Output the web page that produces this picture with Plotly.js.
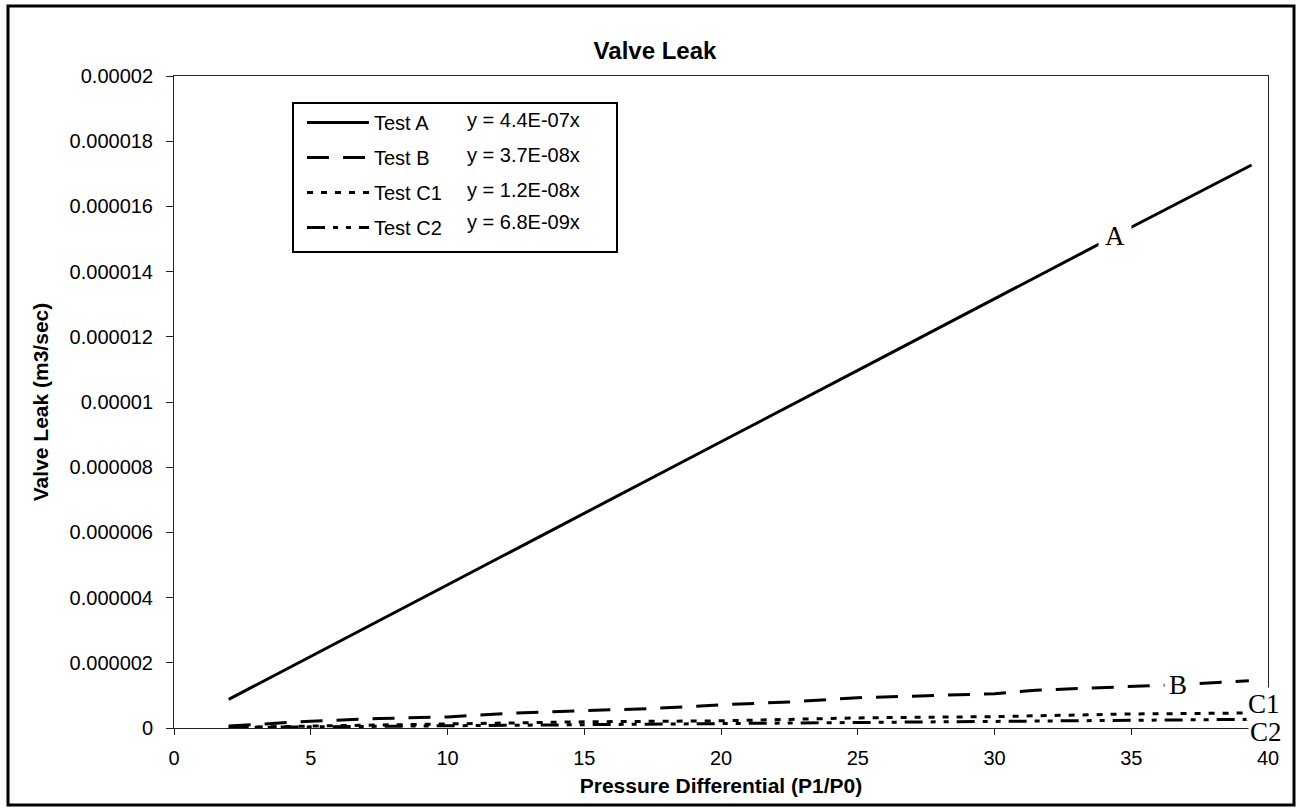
<!DOCTYPE html>
<html>
<head>
<meta charset="utf-8">
<script src="https://cdn.plot.ly/plotly-3.0.1.min.js"></script>
<style>
  html, body { margin: 0; padding: 0; background: #fff; }
  #chart { width: 1297px; height: 810px; }
</style>
</head>
<body>
<div id="chart"></div>
<script>
// ---- data ----
const seriesNames = ["Test A", "Test B", "Test C1", "Test C2"];
const equations = ["y = 4.4E-07x", "y = 3.7E-08x", "y = 1.2E-08x", "y = 6.8E-09x"];

const xA = [2, 5, 10, 15, 20, 25, 30, 35, 39.4];
const yA = [0.88e-6, 2.2e-6, 4.39e-6, 6.58e-6, 8.78e-6, 10.97e-6, 13.17e-6, 15.36e-6, 17.27e-6];

const xB = [2, 5, 7.5, 10, 12.5, 15, 17.5, 20, 22.5, 25, 27.5, 30, 31.5, 35, 37, 39.3];
const yB = [0.06e-6, 0.21e-6, 0.29e-6, 0.34e-6, 0.46e-6, 0.53e-6, 0.60e-6, 0.71e-6, 0.80e-6, 0.93e-6, 0.98e-6, 1.05e-6, 1.16e-6, 1.26e-6, 1.34e-6, 1.45e-6];

const xC1 = [2, 5, 10, 15, 20, 25, 30, 32, 35, 39.3];
const yC1 = [0.02e-6, 0.06e-6, 0.13e-6, 0.19e-6, 0.22e-6, 0.31e-6, 0.35e-6, 0.39e-6, 0.43e-6, 0.46e-6];

const xC2 = [2, 5, 10, 15, 20, 25, 30, 35, 39.3];
const yC2 = [0.014e-6, 0.035e-6, 0.07e-6, 0.10e-6, 0.13e-6, 0.17e-6, 0.20e-6, 0.24e-6, 0.265e-6];

const xTickVals = [0, 5, 10, 15, 20, 25, 30, 35, 40];
const xTickText = ["0", "5", "10", "15", "20", "25", "30", "35", "40"];
const yTickVals = [0, 2e-6, 4e-6, 6e-6, 8e-6, 1e-5, 1.2e-5, 1.4e-5, 1.6e-5, 1.8e-5, 2e-5];
const yTickText = ["0", "0.000002", "0.000004", "0.000006", "0.000008", "0.00001",
                   "0.000012", "0.000014", "0.000016", "0.000018", "0.00002"];

// ---- styles ----
const SANS = "Liberation Sans, Arial, sans-serif";
const SERIF = "Liberation Serif, Times New Roman, serif";
const dashes = ["solid", "22px,14px", "6px,8px", "18px,8px,5px,8px,5px,8px"];
const xs = [xA, xB, xC1, xC2];
const ys = [yA, yB, yC1, yC2];

const traces = seriesNames.map((n, i) => ({
  x: xs[i], y: ys[i], name: n, type: "scatter", mode: "lines",
  legendgroup: "g" + i,
  line: { color: "#000", width: 3, dash: dashes[i] },
  hoverinfo: "x+y+name"
}));

// pixel helpers for layout placement (plot area 174..1268 x, 76..728 y)
const L = 174, R = 1268, T = 76, B = 728;
const px = v => (v - L) / (R - L);
const py = v => (B - v) / (B - T);

const eqY = [120, 155, 190, 222];
const annotations = equations.map((t, i) => ({
  text: t, xref: "paper", yref: "paper", x: px(465), y: py(eqY[i]),
  xanchor: "left", yanchor: "middle", showarrow: false,
  font: { family: SANS, size: 20, color: "#000" }
}));

// curve labels
const lab = { showarrow: false, bgcolor: "#fff", xanchor: "center", yanchor: "middle",
              font: { family: SERIF, size: 27, color: "#000" } };
annotations.push(
  Object.assign({}, lab, { text: "A", xref: "x", yref: "y", x: 34.4, y: 15.1e-6, borderpad: 6 }),
  Object.assign({}, lab, { text: "B", xref: "x", yref: "y", x: 36.7, y: 1.32e-6, borderpad: 4 }),
  Object.assign({}, lab, { text: "C1", xref: "paper", yref: "paper", x: px(1264), y: py(704), borderpad: 1 }),
  Object.assign({}, lab, { text: "C2", xref: "paper", yref: "paper", x: px(1266), y: py(732), borderpad: 1 })
);

const shapes = [
  // outer chart border
  { type: "rect", xref: "paper", yref: "paper", x0: px(8), x1: px(1294), y0: py(805), y1: py(6),
    line: { color: "#000", width: 3 }, fillcolor: "rgba(0,0,0,0)", layer: "above" },
  // legend box
  { type: "rect", xref: "paper", yref: "paper", x0: px(293), x1: px(617), y0: py(252), y1: py(103),
    line: { color: "#000", width: 2 }, fillcolor: "rgba(0,0,0,0)", layer: "above" }
];

const layout = {
  width: 1297, height: 810,
  margin: { l: L, r: 1297 - R, t: T, b: 810 - B, pad: 0 },
  paper_bgcolor: "#fff", plot_bgcolor: "#fff",
  font: { family: SANS, color: "#000" },
  title: { text: "<b>Valve Leak</b>", xref: "container", yref: "container",
           x: 655 / 1297, y: 1 - 51 / 810, xanchor: "center", yanchor: "middle",
           font: { family: SANS, size: 24, color: "#000" } },
  xaxis: {
    range: [0, 40], tickvals: xTickVals, ticktext: xTickText,
    showgrid: false, zeroline: false, showline: true, mirror: true,
    linecolor: "#222", linewidth: 1, ticks: "outside", ticklen: 6, tickcolor: "#222",
    ticklabelstandoff: 6,
    tickfont: { family: SANS, size: 20, color: "#000" },
    title: { text: "<b>Pressure Differential (P1/P0)</b>", standoff: 10,
             font: { family: SANS, size: 21, color: "#000" } }
  },
  yaxis: {
    range: [0, 2e-5], tickvals: yTickVals, ticktext: yTickText,
    showgrid: false, zeroline: false, showline: true, mirror: true,
    linecolor: "#222", linewidth: 1, ticks: "outside", ticklen: 7, tickcolor: "#222",
    ticklabelstandoff: 9,
    tickfont: { family: SANS, size: 20, color: "#000" },
    title: { text: "<b>Valve Leak (m3/sec)</b>", standoff: 15,
             font: { family: SANS, size: 21, color: "#000" } }
  },
  showlegend: true,
  legend: {
    x: px(302), y: py(103), xanchor: "left", yanchor: "top",
    bgcolor: "rgba(0,0,0,0)", borderwidth: 0, itemwidth: 62,
    traceorder: "grouped", tracegroupgap: 6,
    font: { family: SANS, size: 20, color: "#000" }
  },
  annotations: annotations,
  shapes: shapes
};

Plotly.newPlot("chart", traces, layout, { displayModeBar: false, staticPlot: true });
</script>
</body>
</html>
